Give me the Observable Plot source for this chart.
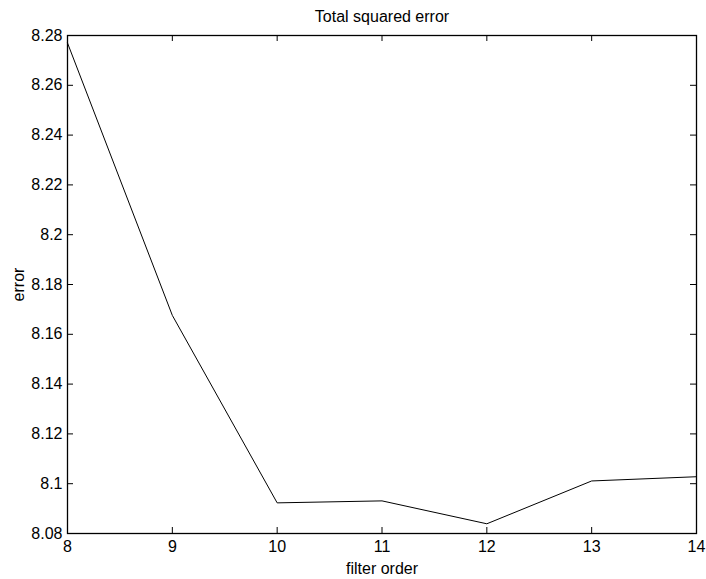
<!DOCTYPE html>
<html>
<head>
<meta charset="utf-8">
<script src="https://cdn.jsdelivr.net/npm/d3@7"></script>
<script src="https://cdn.jsdelivr.net/npm/@observablehq/plot@0.6"></script>
<style>
  html, body { margin: 0; padding: 0; background: #fff; }
  svg { display: block; }
</style>
</head>
<body>
<div id="chart"></div>
<script>
const filterOrder = [8, 9, 10, 11, 12, 13, 14];
const totalError = [8.2770, 8.1676, 8.0923, 8.0931, 8.0839, 8.1011, 8.1028];
const xTicks = [8, 9, 10, 11, 12, 13, 14];
const yTicks = [8.08, 8.10, 8.12, 8.14, 8.16, 8.18, 8.20, 8.22, 8.24, 8.26, 8.28];
const titleText = "Total squared error";
const xLabel = "filter order";
const yLabel = "error";

const data = filterOrder.map((x, i) => ({x, y: totalError[i]}));

const W = 706, H = 579;
const mt = 35, mb = 46, ml = 67, mr = 10;
const ph = H - mt - mb, pw = W - ml - mr;
const tk = 6;
const font = "'Liberation Sans', Arial, Helvetica, sans-serif";

const chart = Plot.plot({
  width: W,
  height: H,
  marginTop: mt,
  marginBottom: mb,
  marginLeft: ml,
  marginRight: mr,
  style: {fontFamily: font, fontSize: "16px", color: "black", background: "white"},
  x: {domain: [8, 14], ticks: xTicks},
  y: {domain: [8.08, 8.28], ticks: yTicks},
  marks: [
    Plot.tickX(xTicks, {x: d => d, insetTop: ph - tk, stroke: "black", strokeWidth: 1}),
    Plot.tickX(xTicks, {x: d => d, insetBottom: ph - tk, stroke: "black", strokeWidth: 1}),
    Plot.tickY(yTicks, {y: d => d, insetRight: pw - tk, stroke: "black", strokeWidth: 1}),
    Plot.tickY(yTicks, {y: d => d, insetLeft: pw - tk, stroke: "black", strokeWidth: 1}),
    Plot.axisX(xTicks, {tickSize: 0, tickPadding: 7, label: xLabel, labelAnchor: "center", labelArrow: "none", labelOffset: 40, fontSize: 16}),
    Plot.axisY(yTicks, {tickSize: 0, tickPadding: 5, tickFormat: d3.format("~g"), label: yLabel, labelAnchor: "center", labelArrow: "none", labelOffset: 55, fontSize: 16}),
    Plot.frame({stroke: "black", strokeWidth: 1.3}),
    Plot.line(data, {x: "x", y: "y", stroke: "black", strokeWidth: 1}),
    Plot.text([titleText], {frameAnchor: "top", dy: -14, lineAnchor: "bottom", fontSize: 16, fill: "black"})
  ]
});
document.getElementById("chart").appendChild(chart);
</script>
</body>
</html>
